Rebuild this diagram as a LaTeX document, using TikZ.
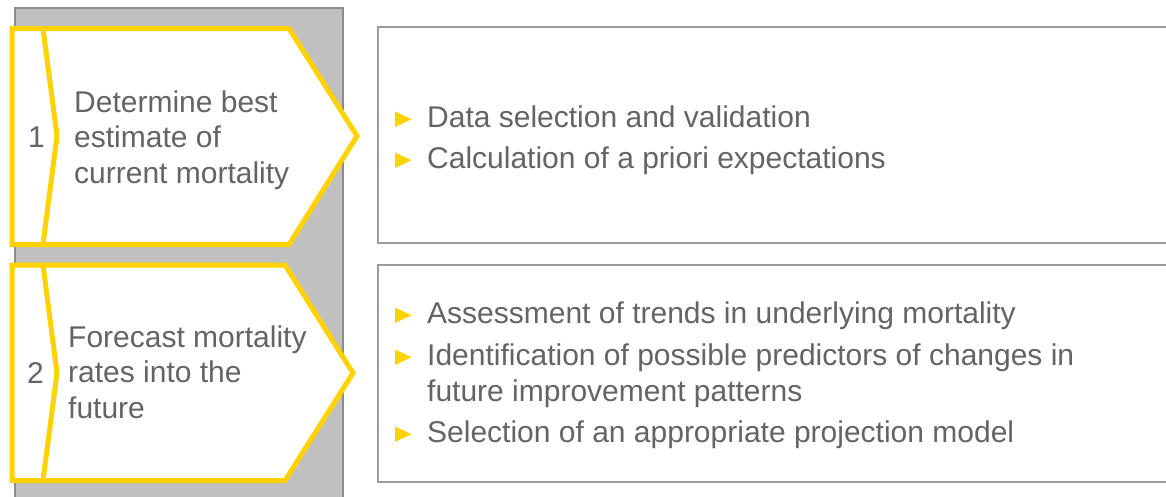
\documentclass[tikz,border=0pt]{standalone}
\usepackage{fontspec}
\setmainfont{Liberation Sans}
\definecolor{eyyellow}{HTML}{FFD200}
\definecolor{txtgray}{HTML}{646464}
\definecolor{bggray}{HTML}{C0C0C0}
\definecolor{bgborder}{HTML}{8C8C8C}
\definecolor{boxborder}{HTML}{9A9A9A}
\tikzset{
  chev/.style={draw=eyyellow, line width=5pt, fill=white, line join=miter},
  divider/.style={draw=eyyellow, line width=5pt},
  infobox/.style={draw=boxborder, line width=1.5pt, fill=white},
  txt/.style={text=txtgray, inner sep=0pt, anchor=base west, align=left,
    font=\fontsize{30}{35.5}\selectfont},
  bultxt/.style={text=txtgray, inner sep=0pt, anchor=base west, align=left,
    font=\fontsize{30}{36}\selectfont},
  bul/.style={fill=eyyellow}
}
\newcommand{\ybullet}[2]{\fill[bul] (#1,#2-15.5) -- (#1,#2) -- (#1+16.5,#2-7.75) -- cycle;}
\begin{document}
\begin{tikzpicture}[x=1pt,y=-1pt]
\useasboundingbox (0,0) rectangle (1166,496);
\clip (0,0) rectangle (1166,496);
% gray background column
\draw[fill=bggray, draw=bgborder, line width=2pt] (15,8) rectangle (343,510);
% chevron 1
\draw[chev] (12,28.5) -- (289,28.5) -- (357,136) -- (289,244.5) -- (12,244.5) -- cycle;
\draw[divider] (43,28.5) -- (57,136) -- (43,244.5);
% chevron 2
\draw[chev] (12,265) -- (285,265) -- (353,373) -- (285,480.5) -- (12,480.5) -- cycle;
\draw[divider] (43,265) -- (57,373) -- (43,480.5);
% right boxes
\draw[infobox] (378,27) rectangle (1180,243);
\draw[infobox] (378,265) rectangle (1180,482);
% left texts (multi-line nodes: base = last line)
\node[txt] (n1) at (28,147) {1};
\node[txt] (t1) at (74,183) {Determine best\\estimate of\\current mortality};
\node[txt] (n2) at (27,383) {2};
\node[txt] (t2) at (68,418) {Forecast mortality\\rates into the\\future};
% bullets box 1
\ybullet{395}{127}
\node[bultxt] (b11) at (427,127) {Data selection and validation};
\ybullet{395}{168}
\node[bultxt] (b12) at (427,168) {Calculation of a priori expectations};
% bullets box 2
\ybullet{395}{323}
\node[bultxt] (b21) at (427,323) {Assessment of trends in underlying mortality};
\ybullet{395}{365}
\node[bultxt] (b22) at (427,401) {Identification of possible predictors of changes in\\future improvement patterns};
\ybullet{395}{442}
\node[bultxt] (b23) at (427,442) {Selection of an appropriate projection model};
\end{tikzpicture}
\end{document}
